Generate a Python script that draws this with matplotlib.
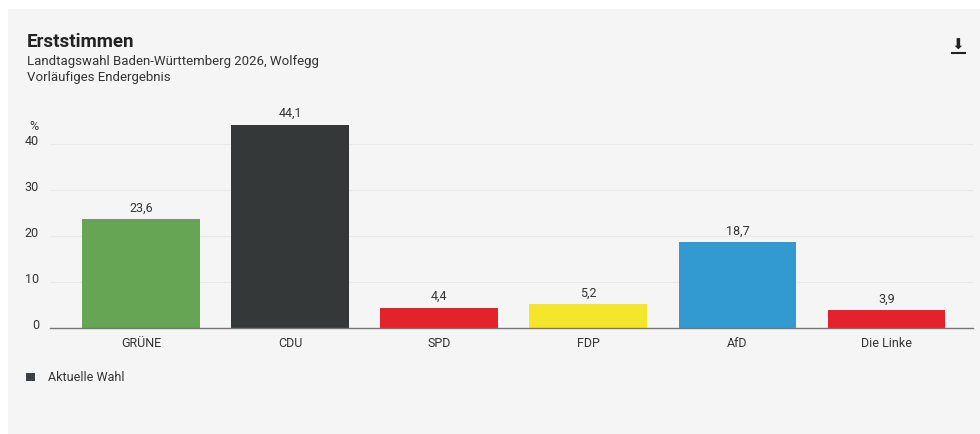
import matplotlib.pyplot as plt
from matplotlib.patches import Rectangle

plt.rcParams['font.family'] = ['Roboto', 'DejaVu Sans']

parties = ['GRÜNE', 'CDU', 'SPD', 'FDP', 'AfD', 'Die Linke']
votes = [23.6, 44.1, 4.4, 5.2, 18.7, 3.9]
colors = ['#65a553', '#343839', '#e3222b', '#f5e62c', '#3399d1', '#e3222b']
yticks = [0, 10, 20, 30, 40]

fig = plt.figure(figsize=(9.8, 4.35), dpi=100)
fig.patch.set_facecolor('white')
# grey card behind the chart
fig.patches.append(Rectangle((8 / 980, 0), 1, 425 / 435, transform=fig.transFigure,
                             facecolor='#f5f5f5', edgecolor='none', zorder=-10))

ax = fig.add_axes([50 / 980, 106 / 435, 923 / 980, 212 / 435])
ax.set_facecolor('none')

x = range(len(parties))
ax.bar(x, votes, width=0.79, color=colors, zorder=3)
for i, v in enumerate(votes):
    ax.text(i, v + 1.2, f'{v:.1f}'.replace('.', ','), ha='center', va='bottom',
            fontsize=9, color='#333333')

ax.set_xlim(-0.61, 5.58)
ax.set_ylim(0, 46)
ax.set_xticks(list(x))
ax.set_xticklabels(parties, fontsize=9, color='#333333')
ax.set_yticks(yticks)
ax.set_yticklabels([str(t) for t in yticks], fontsize=9, color='#333333', va='baseline')
ax.tick_params(axis='both', length=0)
ax.tick_params(axis='x', pad=6)
ax.tick_params(axis='y', pad=8)
ax.grid(axis='y', color='#e9e9e9', linewidth=0.8, zorder=0)
for s in ['top', 'right', 'left']:
    ax.spines[s].set_visible(False)
ax.spines['bottom'].set_color('#777777')
ax.spines['bottom'].set_linewidth(1)
ax.spines['bottom'].set_zorder(4)

fig.text(29 / 980, 1 - 126 / 435, '%', fontsize=9, color='#333333', va='center')

fig.text(27 / 980, 1 - 42 / 435, 'Erststimmen', fontsize=13.5, fontweight='bold',
         color='#222222', va='center')
fig.text(27 / 980, 1 - 62 / 435, 'Landtagswahl Baden-Württemberg 2026, Wolfegg',
         fontsize=9.5, color='#333333', va='center')
fig.text(27 / 980, 1 - 77 / 435, 'Vorläufiges Endergebnis',
         fontsize=9.5, color='#333333', va='center')

# download icon
fig.text(958 / 980, 1 - 45 / 435, '\u2B07', fontsize=11, color='#222222',
         ha='center', va='center', family=['DejaVu Sans'])
fig.add_artist(plt.Line2D([952 / 980, 965 / 980], [1 - 54 / 435, 1 - 54 / 435],
                          color='#222222', linewidth=1.5, transform=fig.transFigure))

# legend
fig.patches.append(Rectangle((26 / 980, 1 - 382 / 435), 9 / 980, 8 / 435,
                             transform=fig.transFigure, facecolor='#3b4146',
                             edgecolor='none'))
fig.text(48 / 980, 1 - 378 / 435, 'Aktuelle Wahl', fontsize=9, color='#333333',
         va='center')

plt.savefig('out.png', dpi=100)
